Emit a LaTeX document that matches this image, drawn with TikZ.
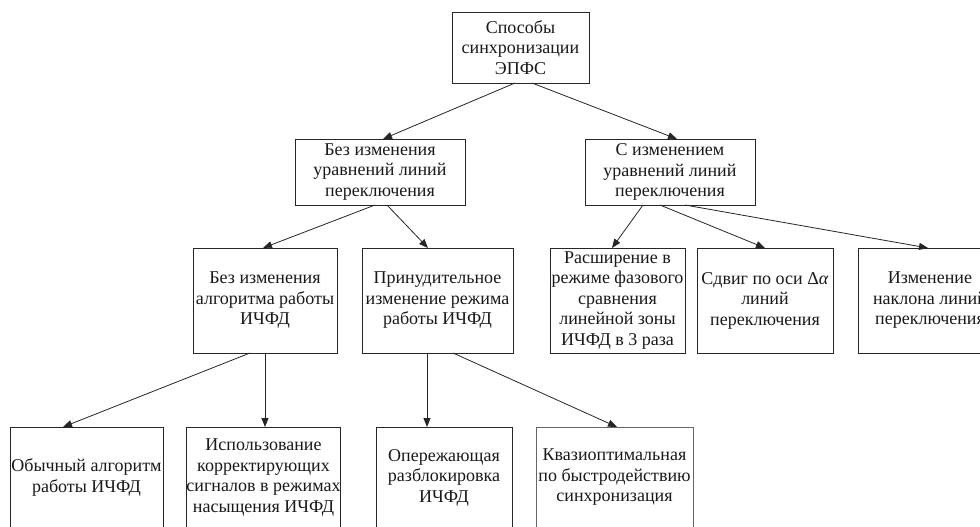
\documentclass[tikz,border=0pt]{standalone}
\usepackage{fontspec}
\setmainfont{Liberation Serif}
\usetikzlibrary{arrows.meta}
\begin{document}
\begin{tikzpicture}[x=1pt,y=-1pt,
  bx/.style={draw=black!85,line width=0.8pt,inner sep=0pt,outer sep=0pt,align=center,
    font=\fontsize{18}{20.5}\selectfont,text=black!90},
  arr/.style={draw=black!85,line width=0.8pt,-{Triangle[length=9pt,width=7pt]}}]
\useasboundingbox (0,0) rectangle (980,527);
\clip (0,0) rectangle (980,527);
\fill[white] (0,0) rectangle (980,527);
% level 0
\node[bx,minimum width=137,minimum height=71] (T) at (520.5,47.5) {Способы\\синхронизации\\ЭПФС};
% level 1
\node[bx,minimum width=170,minimum height=66] (A) at (380,172) {Без изменения\\уравнений линий\\переключения};
\node[bx,minimum width=170,minimum height=66] (B) at (670,172) {С изменением\\уравнений линий\\переключения};
% level 2
\node[bx,minimum width=144,minimum height=105] (M1) at (265,300.5) {Без изменения\\алгоритма работы\\ИЧФД};
\node[bx,minimum width=151,minimum height=105] (M2) at (437.5,300.5) {Принудительное\\изменение режима\\работы ИЧФД};
\node[bx,minimum width=135,minimum height=105] (R1) at (617.5,300.5) {Расширение в\\режиме фазового\\сравнения\\линейной зоны\\ИЧФД в 3 раза};
\node[bx,minimum width=136,minimum height=105] (R2) at (765,300.5) {Сдвиг по оси Δ\textit{α}\\линий\\переключения};
\node[bx,minimum width=144,minimum height=105] (R3) at (930,300.5) {Изменение\\наклона линий\\переключения};
% level 3
\node[bx,minimum width=153,minimum height=101] (O1) at (86.5,477.5) {Обычный алгоритм\\работы ИЧФД};
\node[bx,minimum width=153,minimum height=101] (O2) at (263.5,477.5) {Использование\\корректирующих\\сигналов в режимах\\насыщения ИЧФД};
\node[bx,minimum width=136,minimum height=101] (O3) at (444,477.5) {Опережающая\\разблокировка\\ИЧФД};
\node[bx,draw=black!60,minimum width=157,minimum height=101] (O4) at (614.5,477.5) {Квазиоптимальная\\по быстродействию\\синхронизация};
% connectors
\draw[arr] ([xshift=-5.5]T.south) -- ([xshift=3]A.north);
\draw[arr] ([xshift=11.5]T.south) -- ([xshift=7]B.north);
\draw[arr] ([xshift=-5]A.south) -- ([xshift=-2]M1.north);
\draw[arr] ([xshift=7]A.south) -- ([xshift=-9.5]M2.north);
\draw[arr] ([xshift=-27]B.south) -- ([xshift=-5.5]R1.north);
\draw[arr] ([xshift=-10]B.south) -- (R2.north);
\draw[arr] ([xshift=15]B.south) -- ([xshift=-2]R3.north);
\draw[arr] ([xshift=-15]M1.south) -- ([xshift=-23.5]O1.north);
\draw[arr] (M1.south) -- (M1.south |- O2.north);
\draw[arr] ([xshift=-10.5]M2.south) -- ([xshift=-10.5]M2.south |- O3.north);
\draw[arr] ([xshift=15.5]M2.south) -- ([xshift=2.5]O4.north);
\end{tikzpicture}
\end{document}
